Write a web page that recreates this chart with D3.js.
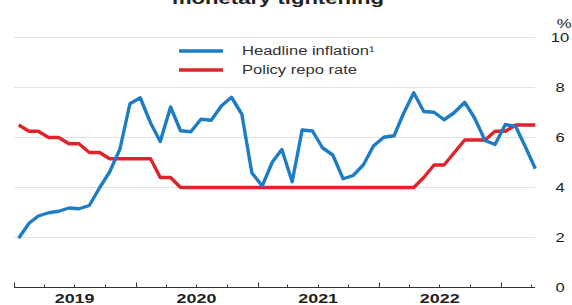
<!DOCTYPE html>
<html>
<head>
<meta charset="utf-8">
<script src="https://cdn.jsdelivr.net/npm/d3@7"></script>
<style>
  body { margin: 0; background: #fff; }
  text { font-family: "Liberation Sans", Arial, sans-serif; fill: #222; }
</style>
</head>
<body>
<div id="chart"></div>
<script>
// monthly observations, Jan 2019 - Apr 2023
var months = [
  "2019-01","2019-02","2019-03","2019-04","2019-05","2019-06","2019-07","2019-08","2019-09","2019-10","2019-11","2019-12",
  "2020-01","2020-02","2020-03","2020-04","2020-05","2020-06","2020-07","2020-08","2020-09","2020-10","2020-11","2020-12",
  "2021-01","2021-02","2021-03","2021-04","2021-05","2021-06","2021-07","2021-08","2021-09","2021-10","2021-11","2021-12",
  "2022-01","2022-02","2022-03","2022-04","2022-05","2022-06","2022-07","2022-08","2022-09","2022-10","2022-11","2022-12",
  "2023-01","2023-02","2023-03","2023-04"
];
var inflation = [
  1.97, 2.57, 2.86, 2.99, 3.05, 3.18, 3.15, 3.28, 3.99, 4.62, 5.54, 7.35,
  7.59, 6.58, 5.84, 7.22, 6.27, 6.23, 6.73, 6.69, 7.27, 7.61, 6.93, 4.59,
  4.06, 5.03, 5.52, 4.23, 6.30, 6.26, 5.59, 5.30, 4.35, 4.48, 4.91, 5.66,
  6.01, 6.07, 6.95, 7.79, 7.04, 7.01, 6.71, 7.00, 7.41, 6.77, 5.88, 5.72,
  6.52, 6.44, 5.66, 4.75
];
var repoRate = [
  6.50, 6.25, 6.25, 6.00, 6.00, 5.75, 5.75, 5.40, 5.40, 5.15, 5.15, 5.15,
  5.15, 5.15, 4.40, 4.40, 4.00, 4.00, 4.00, 4.00, 4.00, 4.00, 4.00, 4.00,
  4.00, 4.00, 4.00, 4.00, 4.00, 4.00, 4.00, 4.00, 4.00, 4.00, 4.00, 4.00,
  4.00, 4.00, 4.00, 4.00, 4.40, 4.90, 4.90, 5.40, 5.90, 5.90, 5.90, 6.25,
  6.25, 6.50, 6.50, 6.50
];
var yTicks = [0, 2, 4, 6, 8, 10];
var yearLabels = ["2019", "2020", "2021", "2022"];
var seriesNames = ["Headline inflation\u00B9", "Policy repo rate"];
var colors = ["#1c7dc5", "#e0232b"];

var W = 572, H = 305,
    plotL = 14, plotR = 535, plotT = 37.5, plotB = 287.5,
    stretch = 1.38;

var svg = d3.select("#chart").append("svg")
    .attr("width", W)
    .attr("height", H);

var parseMonth = d3.timeParse("%Y-%m");
var dates = months.map(function (m) { return d3.timeDay.offset(parseMonth(m), 14); });

var x = d3.scaleTime()
    .domain([new Date(2019, 0, 1), new Date(2023, 3, 14)])
    .range([plotL, plotR]);
var y = d3.scaleLinear().domain([0, 10]).range([plotB, plotT]);

// stretched text helper (the source art is wide)
function label(g, tx, ty, str, anchor) {
    return g.append("text")
        .attr("transform", "translate(" + tx + "," + ty + ") scale(" + stretch + ",1)")
        .attr("text-anchor", anchor || "start")
        .text(str);
}

// title, mostly cut off at top
label(svg, 278, 3.5, "monetary tightening", "middle")
    .style("font-weight", "bold").style("font-size", "16px");

// grid
svg.append("g").selectAll("line")
    .data(yTicks.filter(function (d) { return d > 0; }))
    .enter().append("line")
    .attr("x1", plotL).attr("x2", plotR)
    .attr("y1", function (d) { return y(d); })
    .attr("y2", function (d) { return y(d); })
    .attr("stroke", "#e2e2e2")
    .attr("stroke-width", 1);

// y labels on the right
var yl = svg.append("g").style("font-size", "12px");
yTicks.forEach(function (d) {
    label(yl, 560, y(d) + 4.5, String(d), "middle");
});
label(yl, 564, 28, "%", "middle");

// x axis with upward ticks
var ax = svg.append("g");
ax.append("line")
    .attr("x1", plotL).attr("x2", plotR)
    .attr("y1", plotB).attr("y2", plotB)
    .attr("stroke", "#333");
var qTicks = d3.timeMonth.every(3).range(x.domain()[0], x.domain()[1]);
ax.selectAll(".tick")
    .data(qTicks)
    .enter().append("line")
    .attr("x1", function (d) { return Math.round(x(d)) + 0.5; })
    .attr("x2", function (d) { return Math.round(x(d)) + 0.5; })
    .attr("y1", plotB)
    .attr("y2", function (d) { return d.getMonth() === 0 ? plotB - 5 : plotB - 3; })
    .attr("stroke", "#333");
var xl = ax.append("g").style("font-size", "13px").style("font-weight", "bold");
yearLabels.forEach(function (yr) {
    label(xl, x(new Date(+yr, 6, 2)), 303, yr, "middle");
});

// lines
var line = d3.line()
    .x(function (d, i) { return x(dates[i]); })
    .y(function (d) { return y(d); });

[repoRate, inflation].forEach(function (s, k) {
    svg.append("path")
        .datum(s)
        .attr("fill", "none")
        .attr("stroke", k === 0 ? colors[1] : colors[0])
        .attr("stroke-width", 3.4)
        .attr("stroke-linejoin", "round")
        .attr("d", line);
});

// legend
var lg = svg.append("g").style("font-size", "12px");
seriesNames.forEach(function (n, i) {
    var ly = 51 + i * 19;
    lg.append("line")
        .attr("x1", 179).attr("x2", 223)
        .attr("y1", ly).attr("y2", ly)
        .attr("stroke", colors[i])
        .attr("stroke-width", 3.4);
    label(lg, 242, ly + 4, n).style("fill", "#333");
});
</script>
</body>
</html>
